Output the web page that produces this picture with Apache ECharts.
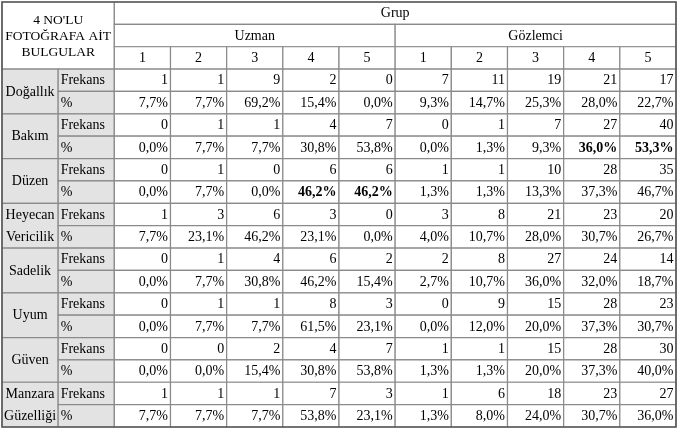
<!DOCTYPE html>
<html>
<head>
<meta charset="utf-8">
<script src="https://cdn.jsdelivr.net/npm/echarts@6/dist/echarts.min.js"></script>
<style>
  html, body { margin: 0; padding: 0; background: #fff; }
  #main { width: 678px; height: 434px; }
</style>
</head>
<body>
<div id="main"></div>
<script>
// tablo verileri
var headerTitle = "4 NO'LU\nFOTOĞRAFA AİT\nBULGULAR";
var groupTitle = "Grup";
var groups = ["Uzman", "Gözlemci"];
var levels = ["1", "2", "3", "4", "5"];
var rowTypes = ["Frekans", "%"];
var criteria = ["Doğallık", "Bakım", "Düzen", "Heyecan\nVericilik", "Sadelik", "Uyum", "Güven", "Manzara\nGüzelliği"];

// Uzman 1-5, Gözlemci 1-5
var freq = [
  [1, 1, 9, 2, 0, 7, 11, 19, 21, 17],
  [0, 1, 1, 4, 7, 0, 1, 7, 27, 40],
  [0, 1, 0, 6, 6, 1, 1, 10, 28, 35],
  [1, 3, 6, 3, 0, 3, 8, 21, 23, 20],
  [0, 1, 4, 6, 2, 2, 8, 27, 24, 14],
  [0, 1, 1, 8, 3, 0, 9, 15, 28, 23],
  [0, 0, 2, 4, 7, 1, 1, 15, 28, 30],
  [1, 1, 1, 7, 3, 1, 6, 18, 23, 27]
];
var pct = [
  [7.7, 7.7, 69.2, 15.4, 0.0, 9.3, 14.7, 25.3, 28.0, 22.7],
  [0.0, 7.7, 7.7, 30.8, 53.8, 0.0, 1.3, 9.3, 36.0, 53.3],
  [0.0, 7.7, 0.0, 46.2, 46.2, 1.3, 1.3, 13.3, 37.3, 46.7],
  [7.7, 23.1, 46.2, 23.1, 0.0, 4.0, 10.7, 28.0, 30.7, 26.7],
  [0.0, 7.7, 30.8, 46.2, 15.4, 2.7, 10.7, 36.0, 32.0, 18.7],
  [0.0, 7.7, 7.7, 61.5, 23.1, 0.0, 12.0, 20.0, 37.3, 30.7],
  [0.0, 0.0, 15.4, 30.8, 53.8, 1.3, 1.3, 20.0, 37.3, 40.0],
  [7.7, 7.7, 7.7, 53.8, 23.1, 1.3, 8.0, 24.0, 30.7, 36.0]
];
// kalın yazılan hücreler [satır, sütun]
var boldPct = [[1, 8], [1, 9], [2, 3], [2, 4]];

var FONT = "'Liberation Serif', 'Times New Roman', serif";
var GREY = "#e3e3e3";
var LINE = "#8a8a8a";

function fmt(v) {
  return v.toFixed(1).replace(".", ",") + "%";
}
function isBold(r, c) {
  return boldPct.some(function (b) { return b[0] === r && b[1] === c; });
}

// hücreler: [x0, y0, x1, y1, metin, hizalama, kalın, arkaplan, satırYüksekliği, punto]
var cells = [];
cells.push([0, 0, 2, 3, headerTitle, "center", 0, 0, 16, 13.5]);
cells.push([2, 0, 12, 1, groupTitle, "center", 0, 0, 16, 14]);
groups.forEach(function (g, gi) {
  cells.push([2 + gi * 5, 1, 7 + gi * 5, 2, g, "center", 0, 0, 16, 14]);
  levels.forEach(function (l, li) {
    var x = 2 + gi * 5 + li;
    cells.push([x, 2, x + 1, 3, l, "center", 0, 0, 16, 14]);
  });
});
criteria.forEach(function (name, i) {
  var y = 3 + i * 2;
  cells.push([0, y, 1, y + 2, name, "center", 0, 1, 22.3, 14]);
  rowTypes.forEach(function (t, ti) {
    cells.push([1, y + ti, 2, y + ti + 1, t, "left", 0, 1, 16, 14]);
  });
  freq[i].forEach(function (v, j) {
    cells.push([2 + j, y, 3 + j, y + 1, String(v), "right", 0, 0, 16, 14]);
  });
  pct[i].forEach(function (v, j) {
    cells.push([2 + j, y + 1, 3 + j, y + 2, fmt(v), "right", isBold(i, j) ? 1 : 0, 0, 16, 14]);
  });
});

var chart = echarts.init(document.getElementById("main"));

function renderCell(params, api) {
  var d = cells[params.dataIndex];
  var p0 = api.coord([d[0], d[1]]);
  var p1 = api.coord([d[2], d[3]]);
  var x0 = p0[0], y0 = p0[1], w = p1[0] - p0[0], h = p1[1] - p0[1];
  var tx = d[5] === "left" ? x0 + 2.5 : d[5] === "right" ? x0 + w - 2.5 : x0 + w / 2;
  return {
    type: "group",
    children: [
      {
        type: "rect",
        shape: { x: x0, y: y0, width: w, height: h },
        style: { fill: d[7] ? GREY : "#fff", stroke: LINE, lineWidth: 1.2 }
      },
      {
        type: "text",
        style: {
          text: d[4],
          x: tx,
          y: y0 + h / 2 + 0.5,
          align: d[5],
          verticalAlign: "middle",
          fontFamily: FONT,
          fontSize: d[9],
          fontWeight: d[6] ? "bold" : "normal",
          lineHeight: d[8],
          fill: "#000"
        }
      }
    ]
  };
}

function renderFrame(params, api) {
  var p0 = api.coord([0, 0]);
  var p1 = api.coord([12, 19]);
  return {
    type: "rect",
    shape: { x: p0[0], y: p0[1], width: p1[0] - p0[0], height: p1[1] - p0[1] },
    style: { fill: "none", stroke: "#5a5a5a", lineWidth: 1.6 }
  };
}

chart.setOption({
  animation: false,
  grid: { left: 2, right: 2, top: 2, bottom: 7 },
  xAxis: { type: "value", min: 0, max: 12, show: false },
  yAxis: { type: "value", min: 0, max: 19, inverse: true, show: false },
  series: [
    {
      type: "custom",
      renderItem: renderCell,
      data: cells.map(function (c) { return [c[0], c[1], c[2], c[3]]; }),
      encode: { x: [0, 2], y: [1, 3] },
      clip: false,
      silent: true
    },
    {
      type: "custom",
      renderItem: renderFrame,
      data: [[0, 0, 12, 19]],
      encode: { x: [0, 2], y: [1, 3] },
      clip: false,
      silent: true,
      z: 3
    }
  ]
});
</script>
</body>
</html>
